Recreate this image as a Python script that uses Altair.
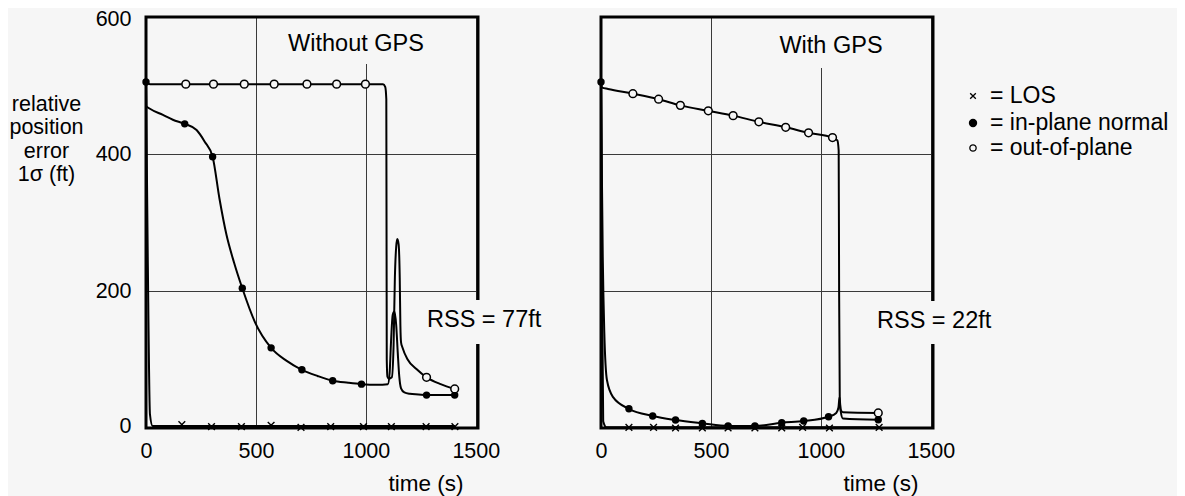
import altair as alt
import pandas as pd

BG = "#f6f6f6"
FONT = "Liberation Sans"
W, H = 332, 411
XMAX = 1510

# ---------------- Without GPS ----------------
wo_los_line_t = [0, 8, 18, 30, 163, 298, 434, 569, 705, 840, 989, 1116, 1274, 1405]
wo_los_line_v = [505, 250, 20, 3, 3, 3, 3, 3, 3, 3, 3, 3, 3, 3]
wo_los_mark_t = [163, 298, 434, 569, 705, 840, 989, 1116, 1274, 1405]
wo_los_mark_v = [5, 2, 2, 4, 1, 2, 2, 2, 2, 2]

wo_inp_line_t = [0, 1, 18, 77, 122, 176, 230, 267, 303, 334, 366, 400, 438, 495, 569, 640, 709, 780,
                 849, 920, 980, 1050, 1100, 1108, 1115, 1122, 1130, 1138, 1145, 1152, 1160, 1175,
                 1200, 1240, 1276, 1340, 1404]
wo_inp_line_v = [505, 470, 466, 457, 450, 444, 435, 418, 396, 335, 282, 242, 204, 155, 117, 98, 85, 76,
                 69, 66, 64, 63, 64, 80, 130, 165, 170, 150, 110, 75, 58, 52,
                 50, 49, 48, 48, 48]
wo_inp_mark_t = [0, 176, 303, 438, 569, 709, 849, 980, 1276, 1404]
wo_inp_mark_v = [505, 444, 396, 204, 117, 85, 69, 64, 48, 48]

wo_oop_line_t = [0, 18, 181, 307, 447, 583, 732, 867, 998, 1078, 1088, 1093, 1095, 1098, 1105, 1118,
                 1126, 1132, 1138, 1143, 1149, 1154, 1157, 1160, 1166, 1190, 1230, 1276, 1340, 1404]
wo_oop_line_v = [505, 502, 502, 502, 502, 502, 502, 502, 502, 502, 498, 480, 100, 75, 72, 74,
                 120, 220, 265, 276, 268, 220, 150, 125, 118, 100, 86, 74, 64, 57]
wo_oop_mark_t = [181, 307, 447, 583, 732, 867, 998, 1276, 1404]
wo_oop_mark_v = [502, 502, 502, 502, 502, 502, 502, 74, 57]

# ---------------- With GPS ----------------
w_los_line_t = [0, 4, 10, 25, 127, 239, 339, 461, 578, 700, 822, 917, 1039, 1265]
w_los_line_v = [505, 250, 10, 1, 1, 1, 1, 1, 1, 1, 1, 1, 1, 1]
w_los_mark_t = [127, 239, 339, 461, 578, 700, 822, 917, 1039, 1265]
w_los_mark_v = [1, 1, 0, 0, 0, 0, 0, 1, 0, 1]

w_inp_line_t = [0, 3, 8, 15, 27, 55, 127, 235, 339, 461, 578, 700, 822, 922, 1035, 1070, 1080, 1085,
                1090, 1100, 1261]
w_inp_line_v = [505, 400, 250, 140, 70, 45, 28, 17.5, 11.6, 6.8, 2.9, 2.9, 7.7, 10.2, 16.5, 22, 30, 45,
                25, 14, 12]
w_inp_mark_t = [0, 127, 235, 339, 461, 578, 700, 822, 922, 1035, 1261]
w_inp_mark_v = [505, 28, 17.5, 11.6, 6.8, 2.9, 2.9, 7.7, 10.2, 16.5, 12]

w_oop_line_t = [0, 5, 32, 145, 262, 361, 488, 601, 718, 840, 944, 1053, 1075, 1081, 1083, 1086, 1090,
                1100, 1261]
w_oop_line_v = [505, 497, 495, 488, 480, 471, 463, 456, 447, 439, 431, 424, 420, 405, 200, 40, 27,
                23, 22]
w_oop_mark_t = [145, 262, 361, 488, 601, 718, 840, 944, 1053, 1261]
w_oop_mark_v = [488, 480, 471, 463, 456, 447, 439, 431, 424, 22]

panel_titles = ["Without GPS", "With GPS"]
rss_labels = ["RSS = 77ft", "RSS = 22ft"]
legend_labels = ["= LOS", "= in-plane normal", "= out-of-plane"]
x_ticks = [0, 500, 1000, 1500]
y_ticks = [0, 200, 400, 600]
y_title = ["relative", "position", "error", "1σ (ft)"]
x_title = "time (s)"

TICK_FS = 21.5
TITLE_FS = 21.5
ANN_FS = 23.5
GRID = "#3a3a3a"


def line_df(series):
    rows = []
    for name, ts, vs in series:
        for i, (t, v) in enumerate(zip(ts, vs)):
            rows.append({"t": t, "v": v, "series": name, "ord": i})
    return pd.DataFrame(rows)


def mark_df(ts, vs):
    return pd.DataFrame({"t": ts, "v": vs})


one = pd.DataFrame({"k": [0]})


def xenc():
    return alt.X("t:Q", scale=alt.Scale(domain=[0, XMAX], nice=False, zero=False),
                 axis=alt.Axis(values=x_ticks, format="d", grid=True, gridColor=GRID, gridWidth=1,
                               domain=False, ticks=False, tickSize=0, labelPadding=12,
                               labelFontSize=TICK_FS, labelColor="black", labelFlush=False,
                               labelOverlap=False, title=x_title, titleFontSize=22.5,
                               titleFontWeight="normal", titleColor="black", titleX=317,
                               titleY=55, titleAlign="right", titleBaseline="middle"))


def yenc(show):
    if show:
        ax = alt.Axis(values=y_ticks, format="d", grid=True, gridColor=GRID, gridWidth=1,
                      domain=False, ticks=False, tickSize=0, labelPadding=15,
                      labelFontSize=TICK_FS, labelColor="black", labelFlush=True,
                      labelFlushOffset=9,
                      title=y_title, titleAngle=0, titleAlign="center", titleBaseline="middle",
                      titleX=-100, titleY=87, titleLineHeight=23.5, titleFontSize=TITLE_FS,
                      titleFontWeight="normal", titleColor="black")
    else:
        ax = alt.Axis(values=y_ticks, grid=True, gridColor=GRID, gridWidth=1, domain=False,
                      ticks=False, tickSize=0, labels=False, title=None)
    return alt.Y("v:Q", scale=alt.Scale(domain=[0, 600], nice=False), axis=ax)


def vrect(x0, x1, y0, y1):
    return alt.Chart(one).mark_rect(color=BG).encode(
        x=alt.value(x0), x2=alt.value(x1), y=alt.value(y0), y2=alt.value(y1))


def vtext(txt, x, y, size=ANN_FS, align="left"):
    return alt.Chart(one).mark_text(align=align, baseline="middle", fontSize=size,
                                    color="black").encode(
        x=alt.value(x), y=alt.value(y), text=alt.value(txt))


def panel(lines, los_m, inp_m, oop_m, show_y, title_txt, title_box, title_xy,
          rss_txt, rss_box, rss_xy, extra=None):
    frame = alt.Chart(one).mark_rect(filled=False, stroke="black", strokeWidth=3).encode(
        x=alt.value(0), x2=alt.value(W), y=alt.value(0), y2=alt.value(H))
    ln = alt.Chart(lines).mark_line(color="black", strokeWidth=2, interpolate="monotone").encode(
        x=xenc(), y=yenc(show_y), detail="series:N", order="ord:Q")
    p_los = alt.Chart(los_m).mark_point(shape="M-1,-1L1,1M-1,1L1,-1", filled=False,
                                        stroke="black", strokeWidth=1.4, size=45,
                                        opacity=1).encode(x="t:Q", y="v:Q")
    p_inp = alt.Chart(inp_m).mark_point(shape="circle", filled=True, color="black", size=55,
                                        opacity=1).encode(x="t:Q", y="v:Q")
    p_oop = alt.Chart(oop_m).mark_point(shape="circle", filled=True, fill=BG, stroke="black",
                                        strokeWidth=1.5, size=60, opacity=1).encode(
        x="t:Q", y="v:Q")
    layers = [vrect(*title_box), frame, ln, p_los, p_inp, p_oop, vrect(*rss_box),
              vtext(title_txt, *title_xy, align="center"), vtext(rss_txt, *rss_xy)]
    if extra:
        layers += extra
    return alt.layer(*layers).properties(width=W, height=H)


left_lines = line_df([("LOS", wo_los_line_t, wo_los_line_v),
                      ("in-plane", wo_inp_line_t, wo_inp_line_v),
                      ("out-of-plane", wo_oop_line_t, wo_oop_line_v)])
right_lines = line_df([("LOS", w_los_line_t, w_los_line_v),
                       ("in-plane", w_inp_line_t, w_inp_line_v),
                       ("out-of-plane", w_oop_line_t, w_oop_line_v)])

# legend (placed to the right of the second panel)
leg_x, leg_tx = 372, 389
leg_y = [79, 106, 131]
legend = [
    alt.Chart(one).mark_point(shape="M-1,-1L1,1M-1,1L1,-1", filled=False, stroke="black",
                              strokeWidth=1.3, size=32, opacity=1).encode(
        x=alt.value(leg_x), y=alt.value(leg_y[0])),
    alt.Chart(one).mark_point(shape="circle", filled=True, color="black", size=70,
                              opacity=1).encode(x=alt.value(leg_x), y=alt.value(leg_y[1])),
    alt.Chart(one).mark_point(shape="circle", filled=True, fill=BG, stroke="black",
                              strokeWidth=1.3, size=40, opacity=1).encode(
        x=alt.value(leg_x), y=alt.value(leg_y[2])),
]
for lbl, yy in zip(legend_labels, leg_y):
    legend.append(vtext(lbl, leg_tx, yy, size=23))

left = panel(left_lines, mark_df(wo_los_mark_t, wo_los_mark_v),
             mark_df(wo_inp_mark_t, wo_inp_mark_v), mark_df(wo_oop_mark_t, wo_oop_mark_v),
             True, panel_titles[0], (137, 284, 0, 47), (210, 27),
             rss_labels[0], (279, 399, 283, 327), (281, 303))
right = panel(right_lines, mark_df(w_los_mark_t, w_los_mark_v),
              mark_df(w_inp_mark_t, w_inp_mark_v), mark_df(w_oop_mark_t, w_oop_mark_v),
              False, panel_titles[1], (172, 291, 0, 51), (230, 29),
              rss_labels[1], (274, 389, 284, 327), (276, 304), extra=legend)

chart = alt.hconcat(left, right, spacing=123, bounds="flush").properties(
    background=BG,
    padding={"left": 0, "top": 0, "right": 8, "bottom": 4},
).configure(font=FONT).configure_view(stroke=None)

chart.save("out.html", embed_options={"renderer": "svg", "actions": False})
